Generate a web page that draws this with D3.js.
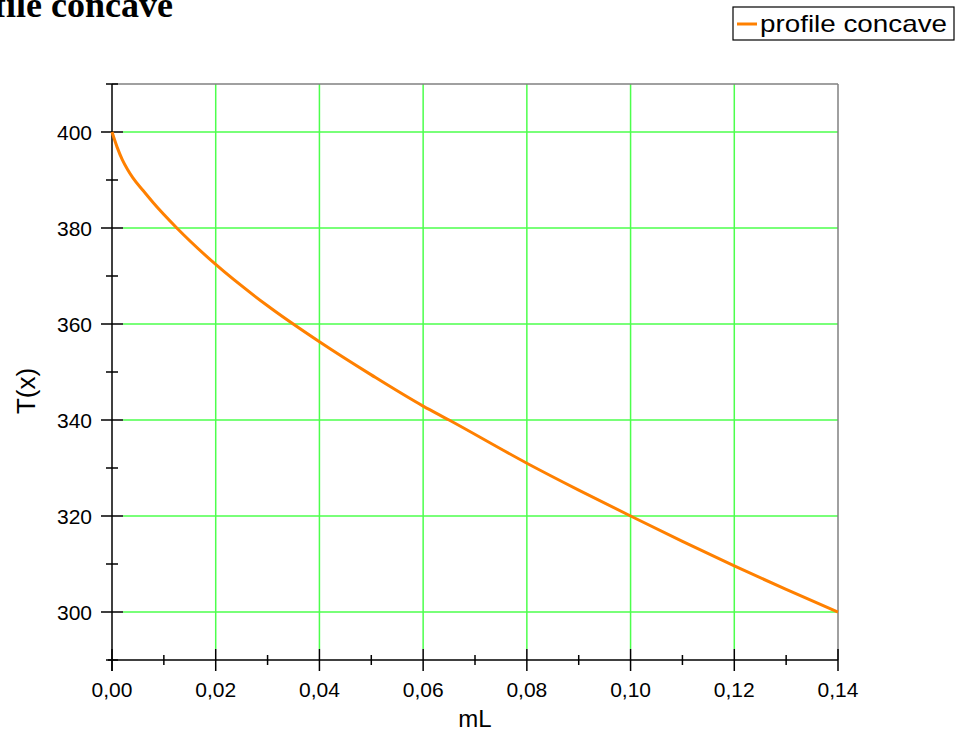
<!DOCTYPE html>
<html>
<head>
<meta charset="utf-8">
<script src="https://cdn.jsdelivr.net/npm/d3@7/dist/d3.min.js"></script>
<style>
  html, body { margin: 0; padding: 0; background: #fff; overflow: hidden; }
  svg { display: block; }
</style>
</head>
<body>
<svg id="chart" width="960" height="749"></svg>
<script>
// Temperature profile along the concave fin
const mL = [0, 0.001, 0.002, 0.003, 0.004, 0.006, 0.008, 0.0125, 0.02, 0.03,
            0.04, 0.05, 0.06, 0.065, 0.08, 0.09, 0.10, 0.11, 0.12, 0.13, 0.14];
const T  = [400, 396.8, 394.2, 392.2, 390.5, 387.8, 385.2, 380, 372.4, 363.8,
            356.3, 349.4, 342.9, 340, 331.0, 325.4, 320, 314.7, 309.6, 304.7, 300];

const xMajor = [0, 0.02, 0.04, 0.06, 0.08, 0.10, 0.12, 0.14];
const xMinor = [0.01, 0.03, 0.05, 0.07, 0.09, 0.11, 0.13];
const yMajor = [300, 320, 340, 360, 380, 400];
const yMinor = [290, 310, 330, 350, 370, 390, 410];

const titleText = "Profile concave";
const seriesName = "profile concave";
const xTitle = "mL";
const yTitle = "T(x)";

const plotL = 112, plotR = 838, plotT = 84, plotB = 660;
const svg = d3.select("#chart");

const x = d3.scaleLinear().domain([0, 0.14]).range([plotL, plotR]);
const y = d3.scaleLinear().domain([290, 410]).range([plotB, plotT]);

const fmt = d => d3.format(".2f")(d).replace(".", ",");
const gridColor = "#4cff4c";
const frameColor = "#808080";

// grid
svg.append("g").selectAll("line").data(yMajor).join("line")
  .attr("x1", plotL + 11).attr("x2", plotR)
  .attr("y1", d => y(d)).attr("y2", d => y(d))
  .attr("stroke", gridColor).attr("stroke-width", 1.5);
svg.append("g").selectAll("line").data(xMajor.slice(1, -1)).join("line")
  .attr("x1", d => x(d)).attr("x2", d => x(d))
  .attr("y1", plotT).attr("y2", plotB - 11)
  .attr("stroke", gridColor).attr("stroke-width", 1.5);

// frame (top and right)
svg.append("line").attr("x1", plotL).attr("x2", plotR).attr("y1", plotT).attr("y2", plotT)
  .attr("stroke", frameColor).attr("stroke-width", 1.5);
svg.append("line").attr("x1", plotR).attr("x2", plotR).attr("y1", plotT).attr("y2", plotB)
  .attr("stroke", frameColor).attr("stroke-width", 1.5);

// axes
const axisFont = "Arial, 'Liberation Sans', sans-serif";
const gx = svg.append("g");
gx.append("line").attr("x1", plotL - 4).attr("x2", plotR).attr("y1", plotB).attr("y2", plotB)
  .attr("stroke", "#000").attr("stroke-width", 1.5);
gx.selectAll("line.maj").data(xMajor).join("line").attr("class", "maj")
  .attr("x1", d => x(d)).attr("x2", d => x(d))
  .attr("y1", plotB - 11).attr("y2", plotB + 11)
  .attr("stroke", "#000").attr("stroke-width", 1.5);
gx.selectAll("line.min").data(xMinor).join("line").attr("class", "min")
  .attr("x1", d => x(d)).attr("x2", d => x(d))
  .attr("y1", plotB - 5).attr("y2", plotB + 5)
  .attr("stroke", "#000").attr("stroke-width", 1.5);
gx.selectAll("text").data(xMajor).join("text")
  .attr("x", d => x(d)).attr("y", 697)
  .attr("text-anchor", "middle")
  .attr("font-family", axisFont).attr("font-size", 21)
  .text(fmt);

const gy = svg.append("g");
gy.append("line").attr("x1", plotL).attr("x2", plotL).attr("y1", plotT).attr("y2", plotB + 11)
  .attr("stroke", "#000").attr("stroke-width", 1.5);
gy.selectAll("line.maj").data(yMajor).join("line").attr("class", "maj")
  .attr("x1", plotL - 11).attr("x2", plotL + 11)
  .attr("y1", d => y(d)).attr("y2", d => y(d))
  .attr("stroke", "#000").attr("stroke-width", 1.5);
gy.selectAll("line.min").data(yMinor).join("line").attr("class", "min")
  .attr("x1", plotL - 6).attr("x2", plotL + 6)
  .attr("y1", d => y(d)).attr("y2", d => y(d))
  .attr("stroke", "#000").attr("stroke-width", 1.5);
gy.selectAll("text").data(yMajor).join("text")
  .attr("x", 92).attr("y", d => y(d))
  .attr("dy", "0.36em")
  .attr("text-anchor", "end")
  .attr("font-family", axisFont).attr("font-size", 21)
  .text(d => d);

// axis titles
svg.append("text").attr("x", (plotL + plotR) / 2).attr("y", 727)
  .attr("text-anchor", "middle")
  .attr("font-family", axisFont).attr("font-size", 24)
  .text(xTitle);
svg.append("text")
  .attr("transform", "translate(35,391) rotate(-90)")
  .attr("text-anchor", "middle")
  .attr("font-family", axisFont).attr("font-size", 26)
  .text(yTitle);

// curve
const pts = mL.map((d, i) => [d, T[i]]);
svg.append("path")
  .datum(pts)
  .attr("fill", "none")
  .attr("stroke", "#ff8000")
  .attr("stroke-width", 3)
  .attr("d", d3.line().x(d => x(d[0])).y(d => y(d[1])).curve(d3.curveMonotoneX));

// title (runs past the top-left corner of the page)
svg.append("text").attr("x", 173).attr("y", 17)
  .attr("text-anchor", "end")
  .attr("font-family", "'Liberation Serif', 'Times New Roman', serif")
  .attr("font-weight", "bold").attr("font-size", 36)
  .text(titleText);

// legend
const lg = svg.append("g");
lg.append("rect").attr("x", 733).attr("y", 7).attr("width", 221).attr("height", 33)
  .attr("fill", "#fff").attr("stroke", "#000").attr("stroke-width", 1.2);
lg.append("line").attr("x1", 737).attr("x2", 757).attr("y1", 24).attr("y2", 24)
  .attr("stroke", "#ff8000").attr("stroke-width", 3);
lg.append("text").attr("x", 760).attr("y", 24).attr("dy", "0.35em")
  .attr("font-family", axisFont).attr("font-size", 24)
  .attr("textLength", 187).attr("lengthAdjust", "spacingAndGlyphs")
  .text(seriesName);
</script>
</body>
</html>
